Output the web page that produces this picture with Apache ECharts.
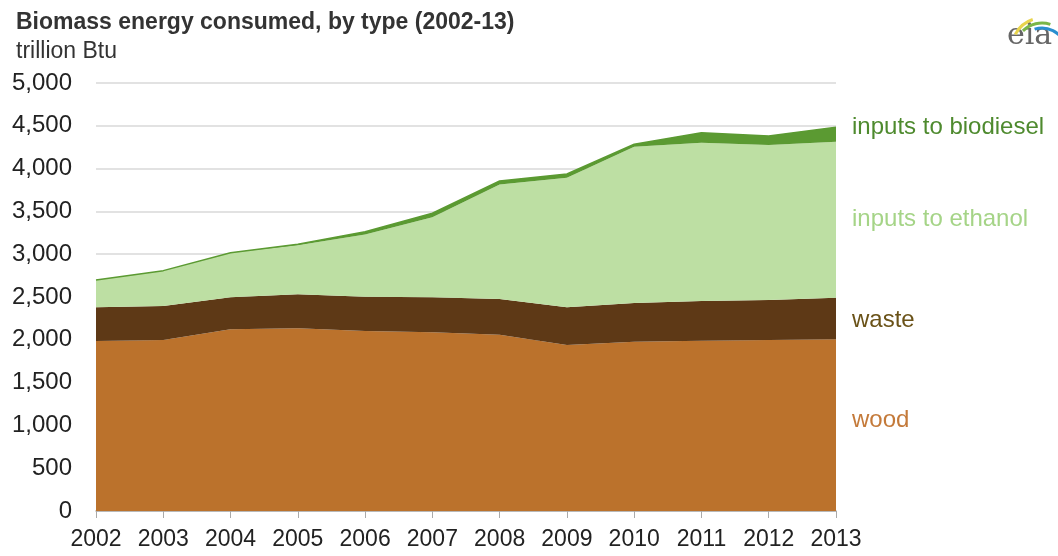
<!DOCTYPE html>
<html>
<head>
<meta charset="utf-8">
<script src="https://cdn.jsdelivr.net/npm/echarts@6/dist/echarts.min.js"></script>
<style>
  html, body { margin: 0; padding: 0; background: #fff; }
  #chart { width: 1058px; height: 556px; }
</style>
</head>
<body>
<div id="chart"></div>
<script>
const years = ['2002', '2003', '2004', '2005', '2006', '2007', '2008', '2009', '2010', '2011', '2012', '2013']

// trillion Btu
const wood = [1986, 1998, 2122, 2136, 2103, 2088, 2060, 1939, 1976, 1990, 1998, 2006]
const waste = [394, 397, 374, 395, 401, 408, 417, 441, 454, 463, 467, 486]
const ethanol = [318, 413, 522, 573, 726, 936, 1338, 1512, 1826, 1850, 1811, 1822]
const biodiesel = [0, 0, 0, 12, 33, 46, 40, 45, 28, 116, 105, 169]

const seriesNames = ['wood', 'waste', 'inputs to ethanol', 'inputs to biodiesel']
const fillColors = ['#bb722c', '#5e3916', '#bddfa3', '#5b9a32']
const labelColors = ['#c47a3a', '#6a5218', '#a5d487', '#4e8a2e']

const chart = echarts.init(document.getElementById('chart'))
const font = 'Liberation Sans, Arial, sans-serif'

function areaSeries (name, data, i) {
  return {
    name: name,
    type: 'line',
    stack: 'total',
    data: data,
    symbol: 'none',
    smooth: false,
    lineStyle: i === 3 ? { width: 1.5, color: '#5b9a32' } : { width: 0 },
    areaStyle: { color: fillColors[i], opacity: 1 },
    itemStyle: { color: fillColors[i] },
    emphasis: { disabled: true }
  }
}

chart.setOption({
  animation: false,
  textStyle: { fontFamily: font },
  grid: { left: 96, right: 222, top: 83, bottom: 45 },
  title: [
    {
      text: 'Biomass energy consumed, by type (2002-13)',
      left: 11,
      top: 6,
      textStyle: { fontSize: 23, fontWeight: 'bold', color: '#333', fontFamily: font }
    },
    {
      text: 'trillion Btu',
      left: 11,
      top: 35,
      textStyle: { fontSize: 23, fontWeight: 'normal', color: '#333', fontFamily: font }
    }
  ],
  xAxis: {
    type: 'category',
    data: years,
    boundaryGap: false,
    axisLine: { lineStyle: { color: '#aaaaaa', width: 1.5 } },
    axisTick: { show: true, length: 7, interval: 0, lineStyle: { color: '#aaaaaa' } },
    axisLabel: { color: '#222', fontSize: 23, margin: 17, interval: 0, hideOverlap: false, fontFamily: font }
  },
  yAxis: {
    type: 'value',
    min: 0,
    max: 5000,
    interval: 500,
    axisLine: { show: false },
    axisTick: { show: false },
    splitLine: { lineStyle: { color: '#d9d9d9', width: 1.5 } },
    axisLabel: {
      color: '#222',
      fontSize: 24,
      margin: 24,
      fontFamily: font,
      formatter: v => v.toLocaleString('en-US')
    }
  },
  series: [
    areaSeries(seriesNames[0], wood, 0),
    areaSeries(seriesNames[1], waste, 1),
    areaSeries(seriesNames[2], ethanol, 2),
    areaSeries(seriesNames[3], biodiesel, 3)
  ]
})

// right-hand labels placed at the middle of each band at the last year
const last = years.length - 1
const stacks = [wood, waste, ethanol, biodiesel]
const shifts = [-3, 4, 2, -5]
let base = 0
const labels = []
stacks.forEach((arr, i) => {
  const lo = base
  const hi = base + arr[last]
  base = hi
  const py = chart.convertToPixel({ gridIndex: 0 }, [last, (lo + hi) / 2])[1]
  labels.push({
    type: 'text',
    left: 852,
    top: py + shifts[i] - 14,
    style: { text: seriesNames[i], fill: labelColors[i], fontSize: 24, fontFamily: font }
  })
})

// eia logo
labels.push(
  {
    type: 'text',
    left: 1007,
    top: 21,
    style: { text: 'eia', fill: '#666', fontSize: 30, fontFamily: 'DejaVu Serif, serif' }
  },
  {
    type: 'arc',
    shape: { cx: 1042, cy: 48, r: 30, startAngle: Math.PI * 1.15, endAngle: Math.PI * 1.4 },
    style: { stroke: '#e8d44d', lineWidth: 3, fill: null }
  },
  {
    type: 'arc',
    shape: { cx: 1042, cy: 50, r: 27, startAngle: Math.PI * 1.25, endAngle: Math.PI * 1.6 },
    style: { stroke: '#7ab648', lineWidth: 3, fill: null }
  },
  {
    type: 'arc',
    shape: { cx: 1042, cy: 52, r: 24, startAngle: Math.PI * 1.4, endAngle: Math.PI * 1.95 },
    style: { stroke: '#2a8fd0', lineWidth: 3, fill: null }
  }
)

chart.setOption({ graphic: labels })
</script>
</body>
</html>
